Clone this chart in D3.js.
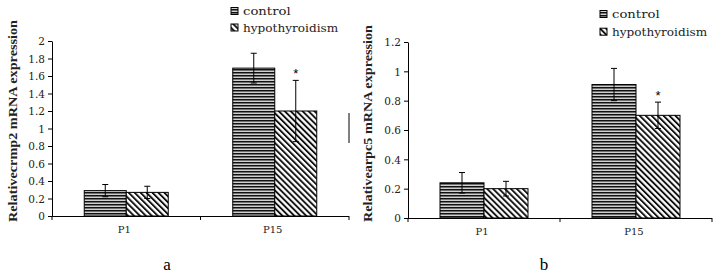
<!DOCTYPE html>
<html><head><meta charset="utf-8">
<script src="https://cdn.jsdelivr.net/npm/d3@7"></script>
<style>body{margin:0;background:#fff}</style>
</head><body>
<svg id="c" width="718" height="275"></svg>
<script>
const categories = ["P1", "P15"];
const seriesNames = ["control", "hypothyroidism"];
// chart a: crmp2
const aControl = [0.29, 1.69];
const aControlErr = [0.07, 0.17];
const aHypo = [0.27, 1.20];
const aHypoErr = [0.07, 0.35];
const aTicks = [0, 0.2, 0.4, 0.6, 0.8, 1, 1.2, 1.4, 1.6, 1.8, 2];
// chart b: arpc5
const bControl = [0.24, 0.91];
const bControlErr = [0.07, 0.11];
const bHypo = [0.20, 0.70];
const bHypoErr = [0.05, 0.09];
const bTicks = [0, 0.2, 0.4, 0.6, 0.8, 1, 1.2];

const svg = d3.select("#c");
const defs = svg.append("defs");
const ph = defs.append("pattern").attr("id","hpat").attr("patternUnits","userSpaceOnUse").attr("width",6).attr("height",3);
ph.append("rect").attr("width",6).attr("height",3).attr("fill","#d0d0d0");
ph.append("rect").attr("y",0).attr("width",6).attr("height",1.5).attr("fill","#111");
const pd = defs.append("pattern").attr("id","dpat").attr("patternUnits","userSpaceOnUse").attr("width",4.2).attr("height",6).attr("patternTransform","rotate(-45)");
pd.append("rect").attr("width",4.2).attr("height",6).attr("fill","#fff");
pd.append("rect").attr("x",0).attr("width",1.9).attr("height",6).attr("fill","#111");

const tickFont = "'DejaVu Serif', serif";

function chart(o){
  const g = svg.append("g");
  const x = d3.scaleBand().domain(categories).range([o.x0, o.x1]);
  const y = d3.scaleLinear().domain([0, o.ymax]).range([o.y0, o.y1]);
  const inner = d3.scaleBand().domain(seriesNames).range([0, o.barW*2]);
  const ya = g.append("g").attr("transform",`translate(${o.x0},0)`)
    .call(d3.axisLeft(y).tickValues(o.ticks).tickSize(4).tickSizeOuter(0).tickFormat(d=>String(d)));
  ya.select(".domain").attr("stroke","#000");
  ya.selectAll("line").attr("stroke","#000");
  ya.selectAll("text").attr("font-family",tickFont).attr("font-size","10.5px").attr("fill","#222").attr("x",-7).attr("dy","0.35em");
  g.append("line").attr("x1",o.x0).attr("x2",o.x1).attr("y1",o.y0+0.5).attr("y2",o.y0+0.5).attr("stroke","#000");
  [o.x0, x("P15"), o.x1].forEach(t=>{
    g.append("line").attr("x1",t).attr("x2",t).attr("y1",o.y0).attr("y2",o.y0+4).attr("stroke","#000");
  });
  categories.forEach(c=>{
    g.append("text").attr("x",x(c)+x.bandwidth()/2-2).attr("y",o.y0+17).attr("text-anchor","middle")
      .attr("font-family",tickFont).attr("font-size","10px").attr("fill","#222").text(c);
  });
  const series = [{name:"control", v:o.control, e:o.controlErr, fill:"url(#hpat)"},
                  {name:"hypothyroidism", v:o.hypo, e:o.hypoErr, fill:"url(#dpat)"}];
  series.forEach(s=>{
    categories.forEach((c,i)=>{
      const bx = x(c)+x.bandwidth()/2 - o.barW + inner(s.name);
      g.append("rect").attr("x",bx).attr("y",y(s.v[i])).attr("width",o.barW).attr("height",o.y0-y(s.v[i]))
        .attr("fill",s.fill).attr("stroke","#000").attr("stroke-width",1);
    });
  });
  series.forEach(s=>{
    categories.forEach((c,i)=>{
      const cx = x(c)+x.bandwidth()/2 - o.barW + inner(s.name) + o.barW/2;
      const hi = y(s.v[i]+s.e[i]), lo = y(s.v[i]-s.e[i]);
      g.append("line").attr("x1",cx).attr("x2",cx).attr("y1",hi).attr("y2",lo).attr("stroke","#000");
      [hi,lo].forEach(yy=>g.append("line").attr("x1",cx-3).attr("x2",cx+3).attr("y1",yy).attr("y2",yy).attr("stroke","#000"));
    });
  });
  const sx = x("P15")+x.bandwidth()/2 + o.barW/2;
  g.append("text").attr("x",sx).attr("y",y(o.hypo[1]+o.hypoErr[1])-2).attr("text-anchor","middle")
    .attr("font-family","'Liberation Sans', sans-serif").attr("font-size","13px").attr("fill","#000").text("*");
  series.forEach((s,i)=>{
    const ly = o.legY + i*o.legGap;
    g.append("rect").attr("x",o.legX).attr("y",ly-3.5).attr("width",7).attr("height",7).attr("fill",s.fill).attr("stroke","#000");
    g.append("text").attr("x",o.legX+12).attr("y",ly+4).attr("font-family",tickFont).attr("font-size","11px").attr("fill","#222")
      .attr("textLength", s.name.length*6.8).attr("lengthAdjust","spacingAndGlyphs").text(s.name);
  });
  g.append("text").attr("transform",`translate(${o.titleX},${o.titleY}) rotate(-90)`)
    .attr("text-anchor","middle").attr("font-family","'Liberation Serif', serif").attr("font-size","13.5px").attr("font-weight","bold")
    .attr("textLength",o.titleLen).attr("lengthAdjust","spacingAndGlyphs").attr("fill","#222")
    .text(o.title);
  g.append("text").attr("x",o.labX).attr("y",270).attr("text-anchor","middle")
    .attr("font-family","'Liberation Serif', serif").attr("font-size","17px").text(o.lab);
}

chart({x0:52, x1:349, y0:216, y1:41, ymax:2, ticks:aTicks, barW:42,
  control:aControl, controlErr:aControlErr, hypo:aHypo, hypoErr:aHypoErr,
  legX:231, legY:11, legGap:16.5, title:"Relativecrmp2 mRNA expression", titleX:17, titleY:121, titleLen:202, lab:"a", labX:167});
svg.append("line").attr("x1",349).attr("x2",349).attr("y1",113).attr("y2",143).attr("stroke","#000");

chart({x0:408, x1:712, y0:218, y1:42, ymax:1.2, ticks:bTicks, barW:44,
  control:bControl, controlErr:bControlErr, hypo:bHypo, hypoErr:bHypoErr,
  legX:600, legY:14, legGap:17.7, title:"Relativearpc5 mRNA expression", titleX:372, titleY:123.5, titleLen:197, lab:"b", labX:544});
</script>
</body></html>
